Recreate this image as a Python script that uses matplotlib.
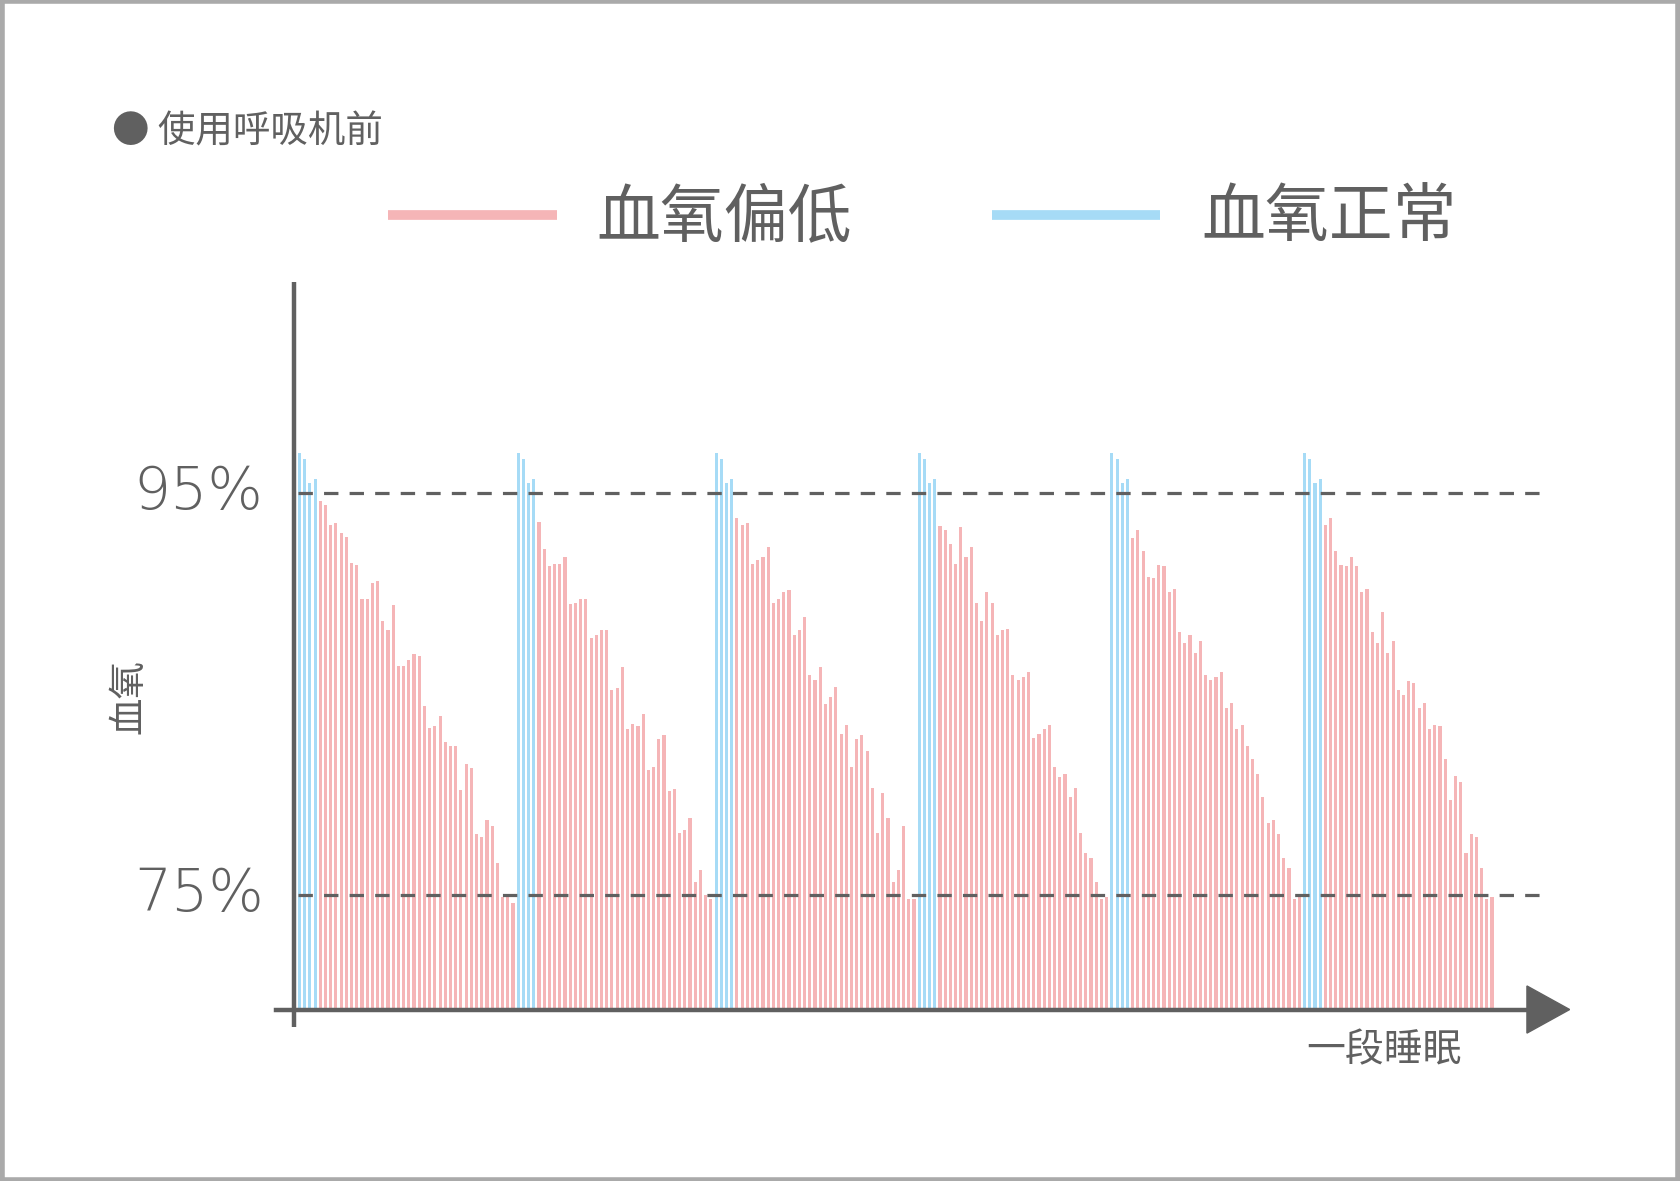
import matplotlib
matplotlib.use("Agg")
import matplotlib.pyplot as plt
from matplotlib.patches import Polygon, Rectangle

plt.rcParams['font.family'] = ['Noto Sans CJK SC', 'DejaVu Sans']

blue_vals = [97.0, 96.7, 95.5, 95.7]
cycle1 = [94.6, 94.4, 93.4, 93.5, 93.0, 92.8, 91.5, 91.4, 89.7, 89.7, 90.5, 90.6, 88.6, 88.2, 89.4,
          86.4, 86.4, 86.7, 87.0, 86.9, 84.4, 83.3, 83.4, 83.9, 82.6, 82.4, 82.4, 80.2, 81.5, 81.3,
          78.0, 77.9, 78.7, 78.4, 76.6, 74.9, 74.9, 74.6]
cycle2 = [93.54, 92.21, 91.38, 91.48, 91.48, 91.83, 89.49, 89.53, 89.73, 89.73, 87.79, 87.92, 88.18,
          88.18, 85.17, 85.27, 86.33, 83.24, 83.49, 83.42, 84.02, 81.19, 81.38, 82.76, 82.93, 80.16,
          80.27, 78.05, 78.23, 78.80, 75.66, 76.21, 74.97, 74.80]
cycle3 = [93.77, 93.39, 93.49, 91.48, 91.68, 91.83, 92.31, 89.53, 89.74, 90.09, 90.19, 87.94, 88.18,
          88.80, 85.95, 85.70, 86.33, 84.47, 84.82, 85.36, 82.98, 83.47, 81.38, 82.76, 82.93, 82.15,
          80.29, 78.05, 80.07, 78.80, 75.66, 76.21, 78.42, 74.80, 74.80]
cycle4 = [93.37, 93.13, 92.48, 91.48, 93.32, 91.83, 92.31, 89.53, 88.60, 90.09, 89.51, 87.94, 88.18,
          88.22, 85.95, 85.70, 85.85, 86.09, 82.78, 83.01, 83.24, 83.47, 81.38, 80.84, 80.99, 79.89,
          80.29, 78.05, 77.06, 76.81, 75.66, 74.77, 74.87]
cycle5 = [92.76, 93.13, 92.13, 90.79, 90.74, 91.40, 91.37, 90.09, 90.24, 88.08, 87.55, 87.94, 87.02,
          87.65, 85.95, 85.70, 85.85, 86.09, 84.27, 84.52, 83.24, 83.47, 82.38, 81.77, 80.99, 79.89,
          78.55, 78.70, 78.00, 76.81, 76.34, 74.77, 74.90]
cycle6 = [93.41, 93.77, 92.13, 91.42, 91.37, 91.83, 91.37, 90.09, 90.24, 88.08, 87.55, 89.06, 87.02,
          87.65, 85.20, 84.92, 85.66, 85.55, 84.27, 84.52, 83.24, 83.47, 83.42, 81.77, 79.71, 80.89,
          80.59, 77.09, 78.00, 77.89, 76.34, 74.77, 74.90]
cycles = [cycle1, cycle2, cycle3, cycle4, cycle5, cycle6]
ref_levels = [95, 75]
ref_labels = ["95%", "75%"]
legend_labels = ["血氧偏低", "血氧正常"]

PINK = "#f5b5b7"
BLUE = "#a6dbf6"
GRAY = "#606060"

W, H = 1568, 1102
fig = plt.figure(figsize=(16.8, 11.81), dpi=100)
fx = lambda x: x / W
fy = lambda y: 1 - y / H

ymin, ymax = 69.29, 105.5
xmin, xmax = -1.13, 243.9
ax = fig.add_axes([fx(274), fy(942), fx(1465) - fx(274), fy(263) - fy(942)])
ax.set_xlim(xmin, xmax)
ax.set_ylim(ymin, ymax)
ax.axis('off')

vals, cols = [], []
for c in cycles:
    vals += blue_vals
    cols += [BLUE] * len(blue_vals)
    vals += c
    cols += [PINK] * len(c)
xs = list(range(len(vals)))
ax.bar(xs, [v - ymin for v in vals], bottom=ymin, width=0.6, color=cols, linewidth=0, zorder=2)

for lv in ref_levels:
    ax.plot([-0.3, 239.8], [lv, lv], color=GRAY, lw=2.3, dashes=(4.5, 3.5), zorder=3)

# axes
ax.plot([xmin, xmin], [ymax, ymin - 16 / 18.75], color=GRAY, lw=3.2, clip_on=False,
        solid_capstyle='butt', zorder=4)
ax.plot([xmin - 16 / 4.86, 236], [ymin, ymin], color=GRAY, lw=3.2, clip_on=False, zorder=4)
ax.add_patch(Polygon([[235.7, ymin + 22 / 18.75], [235.7, ymin - 22 / 18.75], [243.9, ymin]],
                     closed=True, color=GRAY, clip_on=False, zorder=4))

for lv, lb in zip(ref_levels, ref_labels):
    fig.text(fx(246), fy(460 if lv == 95 else 835), lb, ha='right', va='center',
             fontsize=42, color=GRAY, family=['DejaVu Sans'], fontweight='light')

fig.text(fx(120), fy(650), "血氧", rotation=90, ha='center', va='center', fontsize=27, color=GRAY)
fig.text(fx(105), fy(123), "● 使用呼吸机前", ha='left', va='center', fontsize=27, color=GRAY)
fig.text(fx(1292), fy(980), "一段睡眠", ha='center', va='center', fontsize=28, color=GRAY)

# legend
for (x0, x1, tx, col, lb) in [(362, 520, 557, PINK, legend_labels[0]),
                              (926, 1083, 1121, BLUE, legend_labels[1])]:
    fig.add_artist(plt.Line2D([fx(x0), fx(x1)], [fy(201), fy(201)], color=col, lw=7,
                              solid_capstyle='butt'))
    fig.text(fx(tx), fy(203), lb, ha='left', va='center', fontsize=46, color=GRAY)

fig.add_artist(Rectangle((0.001, 0.001), 0.998, 0.998, transform=fig.transFigure, fill=False,
                         edgecolor="#aaaaaa", lw=4))

fig.savefig("out.png", dpi=100, facecolor='white')
